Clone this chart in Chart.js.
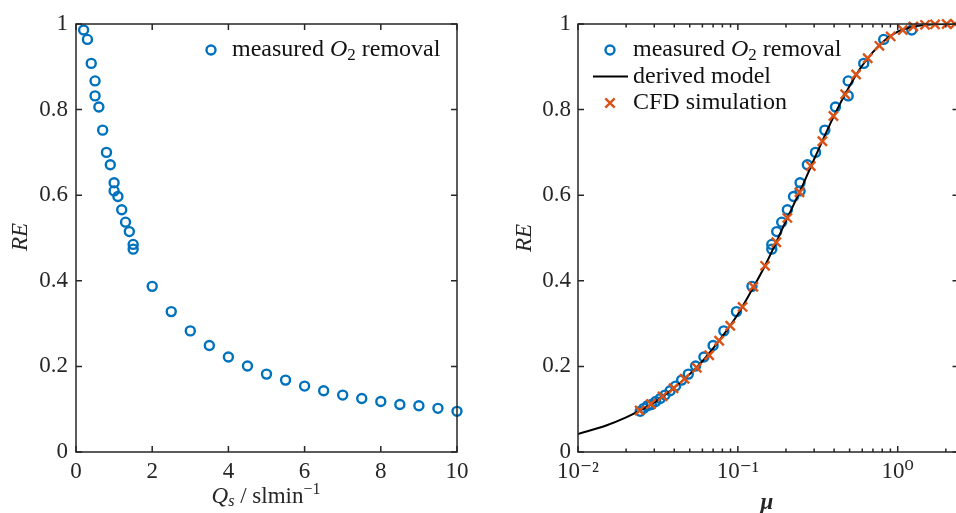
<!DOCTYPE html>
<html>
<head>
<meta charset="utf-8">
<script src="https://cdn.jsdelivr.net/npm/chart.js@4.4.1/dist/chart.umd.min.js"></script>
<style>
  html, body { margin: 0; padding: 0; background: #fff; overflow: hidden; width: 956px; height: 513px; }
  canvas { position: absolute; top: 0; }
  #left { left: 0; }
  #right { left: 480px; }
</style>
</head>
<body>
<canvas id="left" width="480" height="513"></canvas>
<canvas id="right" width="490" height="513"></canvas>
<script>
const FONT = '"Liberation Serif", "DejaVu Serif", serif';
const INK = '#262626';
const BLUE = '#0072BD';
const ORANGE = '#D95319';

// measured removal efficiency vs. sweep gas flow
const Q_MEASURED = [0.2, 0.3, 0.4, 0.5, 0.5, 0.6, 0.7, 0.8, 0.9, 1.0, 1.0, 1.1, 1.2, 1.3, 1.4, 1.5, 1.5,
  2, 2.5, 3, 3.5, 4, 4.5, 5, 5.5, 6, 6.5, 7, 7.5, 8, 8.5, 9, 9.5, 10];
const RE_MEASURED = [0.986, 0.964, 0.908, 0.867, 0.832, 0.806, 0.752, 0.700, 0.671, 0.629, 0.610, 0.597,
  0.566, 0.537, 0.515, 0.485, 0.474, 0.387, 0.328, 0.283, 0.249, 0.222, 0.201, 0.182, 0.168, 0.154,
  0.143, 0.133, 0.125, 0.118, 0.111, 0.108, 0.102, 0.095];
// same measurements on the mu axis
const MU_MEASURED = [1.225, 0.817, 0.613, 0.49, 0.49, 0.408, 0.35, 0.306, 0.272, 0.245, 0.245, 0.223,
  0.204, 0.188, 0.175, 0.163, 0.163, 0.1225, 0.098, 0.0817, 0.07, 0.0613, 0.0544, 0.049, 0.0445, 0.0408,
  0.0377, 0.035, 0.0327, 0.0306, 0.0288, 0.0272, 0.0258, 0.0245];

// derived model curve
const MU_MODEL = [0.01, 0.015, 0.02, 0.025, 0.03, 0.04, 0.05, 0.06, 0.07, 0.08, 0.1, 0.12, 0.15, 0.2,
  0.25, 0.3, 0.4, 0.5, 0.6, 0.8, 1.0, 1.3, 1.6, 2.0, 2.4];
const RE_MODEL = [0.042, 0.062, 0.081, 0.099, 0.116, 0.150, 0.182, 0.212, 0.242, 0.270, 0.322, 0.373, 0.440,
  0.540, 0.617, 0.684, 0.786, 0.855, 0.903, 0.957, 0.982, 0.995, 0.999, 1.0, 1.0];

// CFD simulation
const MU_CFD = [0.0243, 0.0286, 0.0338, 0.0396, 0.0464, 0.0554, 0.0662, 0.0764, 0.0896, 0.107, 0.125,
  0.148, 0.174, 0.204, 0.243, 0.286, 0.338, 0.396, 0.469, 0.549, 0.649, 0.768, 0.904, 1.075, 1.253,
  1.482, 1.711, 2.024, 2.28];
const RE_CFD = [0.097, 0.112, 0.130, 0.149, 0.171, 0.197, 0.226, 0.260, 0.295, 0.339, 0.386, 0.435, 0.490,
  0.547, 0.607, 0.668, 0.726, 0.785, 0.836, 0.882, 0.920, 0.949, 0.971, 0.986, 0.994, 0.998, 0.999, 1.0, 1.0];

const Y_TICKS = [0, 0.2, 0.4, 0.6, 0.8, 1];
const Q_TICKS = [0, 2, 4, 6, 8, 10];

// rich text pieces: [text, style]
const LABEL_MEASURED = [['measured ', 'n'], ['O', 'i'], ['2', 'sub'], [' removal', 'n']];
const LABEL_MODEL = [['derived model', 'n']];
const LABEL_CFD = [['CFD simulation', 'n']];
const TITLE_RE = [['RE', 'i']];
const TITLE_Q = [['Q', 'i'], ['s', 'isub'], [' / slmin', 'n'], ['\u22121', 'sup']];
const TITLE_MU = [['\u03bc', 'bi']];

const SUP = { '-': '\u207b', '0': '\u2070', '1': '\u00b9', '2': '\u00b2' };

function toPoints(xs, ys) {
  return xs.map((x, i) => ({ x, y: ys[i] }));
}

function isNice(v) {
  const m = v / Math.pow(10, Math.floor(Math.log10(v) + 1e-9));
  return Math.abs(m - Math.round(m)) < 1e-6;
}

function isDecade(v) {
  const e = Math.log10(v);
  return Math.abs(e - Math.round(e)) < 1e-6;
}

function pieceFont(style, size) {
  switch (style) {
    case 'i': return ['italic ' + size + 'px ' + FONT, 0];
    case 'bi': return ['bold italic ' + size + 'px ' + FONT, 0];
    case 'sub': return [Math.round(size * 0.7) + 'px ' + FONT, size * 0.22];
    case 'isub': return ['italic ' + Math.round(size * 0.7) + 'px ' + FONT, size * 0.22];
    case 'sup': return [Math.round(size * 0.7) + 'px ' + FONT, -size * 0.32];
    default: return [size + 'px ' + FONT, 0];
  }
}

function drawRich(ctx, parts, x, y, size, center) {
  const fonts = parts.map(p => pieceFont(p[1], size));
  let total = 0;
  const widths = parts.map((p, i) => {
    ctx.font = fonts[i][0];
    const w = ctx.measureText(p[0]).width;
    total += w;
    return w;
  });
  let cx = center ? x - total / 2 : x;
  ctx.textBaseline = 'middle';
  ctx.textAlign = 'left';
  parts.forEach((p, i) => {
    ctx.font = fonts[i][0];
    ctx.fillText(p[0], cx, y + fonts[i][1]);
    cx += widths[i];
  });
}

function makeDecor(cfg) {
  return {
    id: 'decor',
    afterDraw(chart) {
      const { ctx, chartArea: a } = chart;
      const { x, y } = chart.scales;
      ctx.save();
      ctx.strokeStyle = INK;
      ctx.lineWidth = 1.5;
      ctx.strokeRect(a.left, a.top, a.right - a.left, a.bottom - a.top);
      ctx.beginPath();
      x.ticks.forEach(t => {
        const px = x.getPixelForValue(t.value);
        const len = x.type === 'logarithmic' && !isDecade(t.value) ? 3.5 : 6;
        ctx.moveTo(px, a.bottom); ctx.lineTo(px, a.bottom - len);
        ctx.moveTo(px, a.top); ctx.lineTo(px, a.top + len);
      });
      y.ticks.forEach(t => {
        const py = y.getPixelForValue(t.value);
        ctx.moveTo(a.left, py); ctx.lineTo(a.left + 6, py);
        ctx.moveTo(a.right, py); ctx.lineTo(a.right - 6, py);
      });
      ctx.stroke();

      ctx.fillStyle = INK;
      drawRich(ctx, cfg.xTitle, cfg.xTitlePos[0], cfg.xTitlePos[1], 23, true);
      ctx.save();
      ctx.translate(cfg.yTitlePos[0], cfg.yTitlePos[1]);
      ctx.rotate(-Math.PI / 2);
      drawRich(ctx, cfg.yTitle, 0, 0, 23, true);
      ctx.restore();

      // legend inside the axes
      const lg = cfg.legend;
      lg.items.forEach(([idx, parts], row) => {
        const ds = chart.data.datasets[idx];
        const ly = lg.y + row * lg.dy;
        ctx.lineWidth = ds.borderWidth;
        ctx.strokeStyle = ds.borderColor;
        ctx.beginPath();
        if (ds.showLine) {
          ctx.moveTo(lg.markerX - 17, ly); ctx.lineTo(lg.markerX + 18, ly);
        } else if (ds.pointStyle === 'crossRot') {
          const r = ds.pointRadius * 0.72;
          ctx.moveTo(lg.markerX - r, ly - r); ctx.lineTo(lg.markerX + r, ly + r);
          ctx.moveTo(lg.markerX - r, ly + r); ctx.lineTo(lg.markerX + r, ly - r);
        } else {
          ctx.arc(lg.markerX, ly, ds.pointRadius, 0, Math.PI * 2);
        }
        ctx.stroke();
        ctx.fillStyle = '#111';
        drawRich(ctx, parts, lg.textX, ly, 24, false);
      });
      ctx.restore();
    }
  };
}

function tickFont() {
  return { family: FONT, size: 23 };
}

const plainNumber = v => String(Math.round(v * 10) / 10);

// left panel
new Chart(document.getElementById('left'), {
  type: 'scatter',
  data: {
    datasets: [{
      label: 'measured O\u2082 removal',
      data: toPoints(Q_MEASURED, RE_MEASURED),
      borderColor: BLUE,
      backgroundColor: 'rgba(0,0,0,0)',
      pointStyle: 'circle',
      pointRadius: 4.5,
      borderWidth: 2.4,
      clip: false,
    }],
  },
  options: {
    responsive: false,
    animation: false,
    events: [],
    layout: { padding: { left: 0, top: 24, right: 23, bottom: 0 } },
    plugins: { legend: { display: false }, tooltip: { enabled: false } },
    scales: {
      x: {
        type: 'linear', min: 0, max: 10,
        afterBuildTicks: s => { s.ticks = Q_TICKS.map(v => ({ value: v })); },
        afterFit: s => { s.height = 61; },
        grid: { display: false, drawTicks: false },
        border: { display: false },
        ticks: { color: INK, font: tickFont(), padding: 6, maxRotation: 0, callback: plainNumber },
      },
      y: {
        type: 'linear', min: 0, max: 1,
        afterBuildTicks: s => { s.ticks = Y_TICKS.map(v => ({ value: v })); },
        afterFit: s => { s.width = 76; },
        grid: { display: false, drawTicks: false },
        border: { display: false },
        ticks: { color: INK, font: tickFont(), padding: 8, callback: plainNumber },
      },
    },
  },
  plugins: [makeDecor({
    xTitle: TITLE_Q, xTitlePos: [266, 497],
    yTitle: TITLE_RE, yTitlePos: [21, 237],
    legend: { markerX: 211, textX: 232, y: 50, dy: 26, items: [[0, LABEL_MEASURED]] },
  })],
});

// right panel
new Chart(document.getElementById('right'), {
  type: 'scatter',
  data: {
    datasets: [
      {
        label: 'measured O\u2082 removal',
        data: toPoints(MU_MEASURED, RE_MEASURED),
        borderColor: BLUE,
        backgroundColor: 'rgba(0,0,0,0)',
        pointStyle: 'circle',
        pointRadius: 4.5,
        borderWidth: 2.4,
        clip: false,
        order: 3,
      },
      {
        label: 'derived model',
        data: toPoints(MU_MODEL, RE_MODEL),
        borderColor: '#000',
        borderWidth: 2,
        showLine: true,
        pointRadius: 0,
        cubicInterpolationMode: 'monotone',
        order: 2,
      },
      {
        label: 'CFD simulation',
        data: toPoints(MU_CFD, RE_CFD),
        borderColor: ORANGE,
        backgroundColor: ORANGE,
        pointStyle: 'crossRot',
        pointRadius: 6.5,
        borderWidth: 2.4,
        clip: false,
        order: 1,
      },
    ],
  },
  options: {
    responsive: false,
    animation: false,
    events: [],
    layout: { padding: { left: 0, top: 24, right: 11.5, bottom: 0 } },
    plugins: { legend: { display: false }, tooltip: { enabled: false } },
    scales: {
      x: {
        type: 'logarithmic', min: 0.01, max: 2.4,
        afterBuildTicks: s => { s.ticks = s.ticks.filter(t => isNice(t.value)); },
        afterFit: s => { s.height = 61; },
        grid: { display: false, drawTicks: false },
        border: { display: false },
        ticks: {
          color: INK, font: tickFont(), padding: 6, maxRotation: 0, autoSkip: false,
          callback: v => {
            if (!isDecade(v)) return '';
            const e = String(Math.round(Math.log10(v)));
            return '10' + e.split('').map(c => SUP[c]).join('');
          },
        },
      },
      y: {
        type: 'linear', min: 0, max: 1,
        afterBuildTicks: s => { s.ticks = Y_TICKS.map(v => ({ value: v })); },
        afterFit: s => { s.width = 98; },
        grid: { display: false, drawTicks: false },
        border: { display: false },
        ticks: { color: INK, font: tickFont(), padding: 7, callback: plainNumber },
      },
    },
  },
  plugins: [makeDecor({
    xTitle: TITLE_MU, xTitlePos: [287, 503],
    yTitle: TITLE_RE, yTitlePos: [45, 238],
    legend: { markerX: 130, textX: 153, y: 50, dy: 26.5, items: [[0, LABEL_MEASURED], [1, LABEL_MODEL], [2, LABEL_CFD]] },
  })],
});
</script>
</body>
</html>
